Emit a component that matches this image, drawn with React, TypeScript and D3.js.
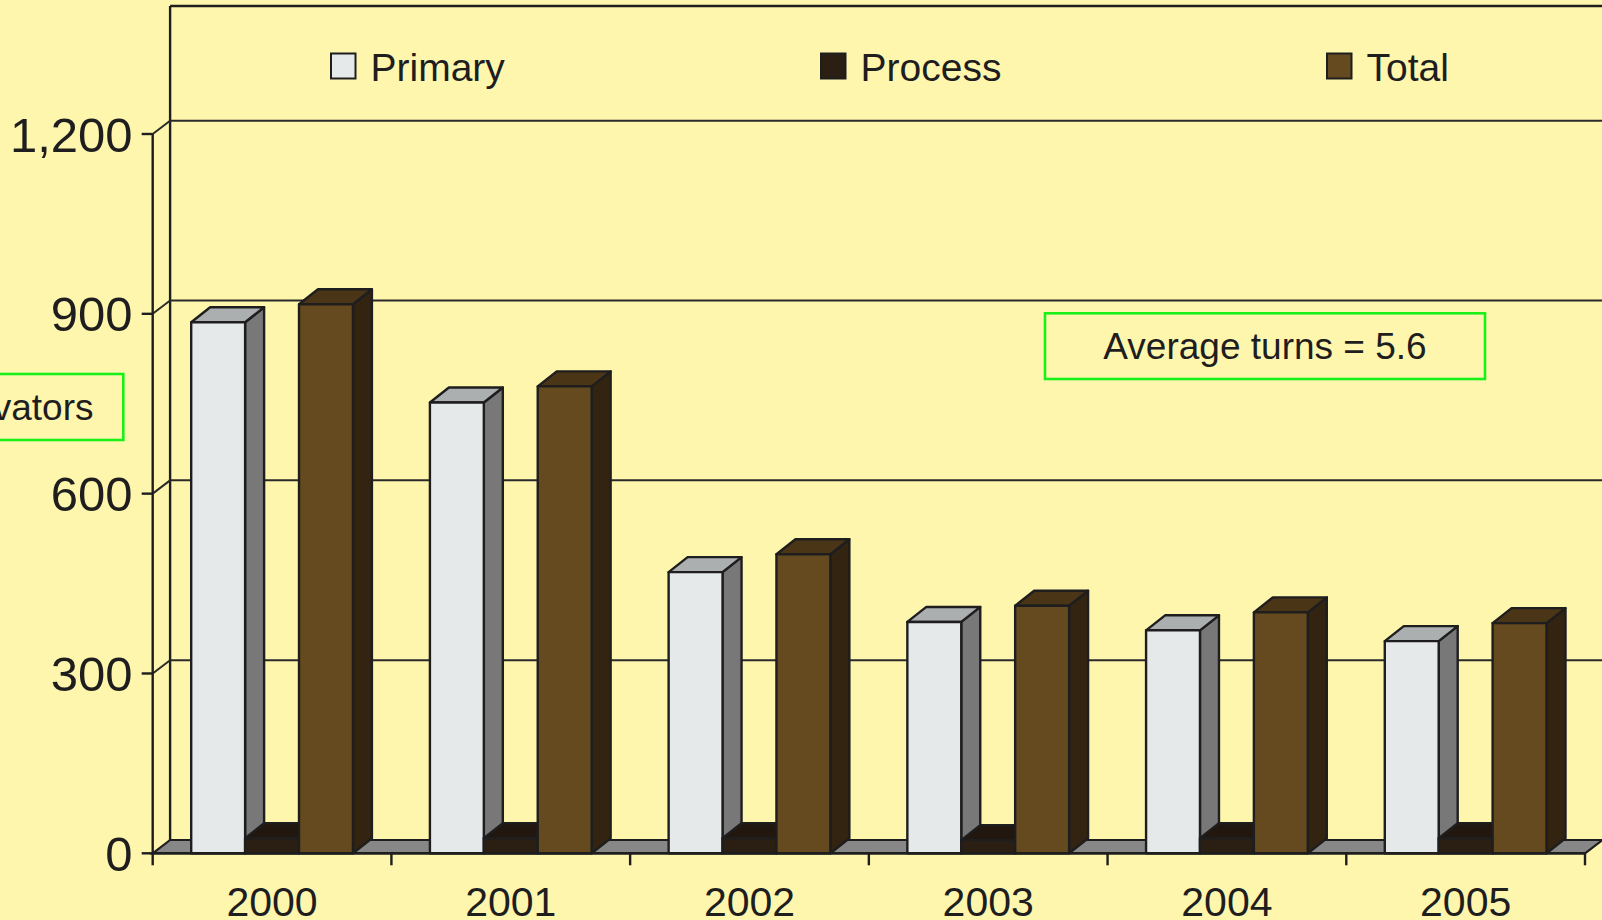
import React from "react";
import * as d3 from "d3";

// Yearly counts per category
const years = ["2000", "2001", "2002", "2003", "2004", "2005"];
const primary = [886, 752, 469, 386, 372, 354];
const processVals = [25, 25, 25, 22, 25, 25];
const total = [916, 779, 499, 413, 402, 384];
const yTicks = [0, 300, 600, 900, 1200];
const seriesNames = ["Primary", "Process", "Total"];

const W = 1602;
const H = 920;
const FONT = "'Liberation Sans', Arial, Helvetica, sans-serif";
const BG = "#FFF6AE";
const INK = "#1e1e1e";

// 3D face colours: front, top, side
const faces = [
  { front: "#E6E9EA", top: "#ABAFB0", side: "#777877" },
  { front: "#2B1F14", top: "#21170F", side: "#1A120B" },
  { front: "#654A1F", top: "#4B3517", side: "#332411" },
];

// plot geometry
const x0 = 152.7;
const x1 = 1585;
const yBase = 853.3;
const yTop = 134;
const wallDx = 17.4;
const wallDy = 13.3;
const barDx = 19;
const barDy = 15;

export default function App() {
  const y = d3.scaleLinear().domain([0, 1200]).range([yBase, yTop]);
  const xBand = d3.scaleBand<string>().domain(years).range([x0, x1]).paddingInner(0).paddingOuter(0);
  const pad = 38.5;
  const xSeries = d3
    .scaleBand<number>()
    .domain([0, 1, 2])
    .range([pad, xBand.bandwidth() - pad])
    .padding(0);
  const bw = xSeries.bandwidth();
  const values = [primary, processVals, total];

  const fmt = d3.format(",");

  const bar = (cx: number, v: number, s: number, key: string) => {
    const xl = cx;
    const xr = cx + bw;
    const yt = y(v);
    const top = [
      [xl, yt],
      [xl + barDx, yt - barDy],
      [xr + barDx, yt - barDy],
      [xr, yt],
    ];
    const side = [
      [xr, yt],
      [xr + barDx, yt - barDy],
      [xr + barDx, yBase - barDy],
      [xr, yBase],
    ];
    const pts = (p: number[][]) => p.map((q) => q.join(",")).join(" ");
    return (
      <g key={key} stroke={INK} strokeWidth={2.4} strokeLinejoin="round">
        <polygon points={pts(side)} fill={faces[s].side} />
        <polygon points={pts(top)} fill={faces[s].top} />
        <rect x={xl} y={yt} width={bw} height={yBase - yt} fill={faces[s].front} />
      </g>
    );
  };

  const floor = [
    [x0, yBase],
    [x0 + wallDx, yBase - wallDy],
    [x1 + wallDx, yBase - wallDy],
    [x1, yBase],
  ]
    .map((q) => q.join(","))
    .join(" ");

  const legendX = [331, 821, 1327];

  return (
    <svg
      width={W}
      height={H}
      viewBox={`0 0 ${W} ${H}`}
      style={{ position: "absolute", left: 0, top: 0, display: "block" }}
      fontFamily={FONT}
    >
      <rect x={0} y={0} width={W} height={H} fill={BG} />

      {/* back wall frame and gridlines */}
      <line x1={x0 + wallDx} y1={6} x2={W} y2={6} stroke={INK} strokeWidth={2.4} />
      <line x1={x0 + wallDx} y1={6} x2={x0 + wallDx} y2={yBase - wallDy} stroke={INK} strokeWidth={2.4} />
      {yTicks
        .filter((t) => t > 0)
        .map((t) => (
          <g key={`g${t}`} stroke="#2a2a2a" strokeWidth={2}>
            <line x1={x0 + wallDx} y1={y(t) - wallDy} x2={W} y2={y(t) - wallDy} />
            <line x1={x0} y1={y(t)} x2={x0 + wallDx} y2={y(t) - wallDy} />
          </g>
        ))}

      {/* floor */}
      <polygon points={floor} fill="#878787" stroke={INK} strokeWidth={2.2} />

      {/* bars */}
      {years.map((yr, i) =>
        [0, 1, 2].map((s) => bar((xBand(yr) as number) + (xSeries(s) as number), values[s][i], s, `${yr}-${s}`))
      )}

      {/* value axis */}
      <line x1={x0} y1={yTop} x2={x0} y2={yBase} stroke={INK} strokeWidth={2.4} />
      {yTicks.map((t) => (
        <g key={`t${t}`}>
          <line x1={x0 - 11} y1={y(t)} x2={x0} y2={y(t)} stroke={INK} strokeWidth={2.4} />
          <text x={132.5} y={y(t) + 17.5} textAnchor="end" fontSize={49} fill={INK}>
            {fmt(t)}
          </text>
        </g>
      ))}

      {/* category axis */}
      <line x1={x0} y1={yBase} x2={x1} y2={yBase} stroke={INK} strokeWidth={2.6} />
      {[...years.map((yr) => xBand(yr) as number), x1].map((tx, i) => (
        <line key={`xt${i}`} x1={tx} y1={yBase} x2={tx} y2={yBase + 12} stroke={INK} strokeWidth={2.4} />
      ))}
      {years.map((yr) => (
        <text
          key={`xl${yr}`}
          x={(xBand(yr) as number) + xBand.bandwidth() / 2}
          y={915.5}
          textAnchor="middle"
          fontSize={41}
          fill={INK}
        >
          {yr}
        </text>
      ))}

      {/* legend */}
      {seriesNames.map((name, i) => (
        <g key={name}>
          <rect x={legendX[i]} y={53.5} width={24.5} height={25} fill={faces[i].front} stroke={INK} strokeWidth={2} />
          <text x={legendX[i] + 39.5} y={81} fontSize={39} fill={INK}>
            {name}
          </text>
        </g>
      ))}

      {/* annotations */}
      <rect x={1045} y={313.3} width={440} height={65.7} fill="none" stroke="#18F018" strokeWidth={2.6} />
      <text x={1265} y={359} textAnchor="middle" fontSize={37} fill={INK}>
        Average turns = 5.6
      </text>

      <rect x={-200} y={374} width={323.3} height={66} fill="none" stroke="#18F018" strokeWidth={2.6} />
      <text x={93.5} y={419.5} textAnchor="end" fontSize={37} fill={INK}>
        Elevators
      </text>
    </svg>
  );
}
